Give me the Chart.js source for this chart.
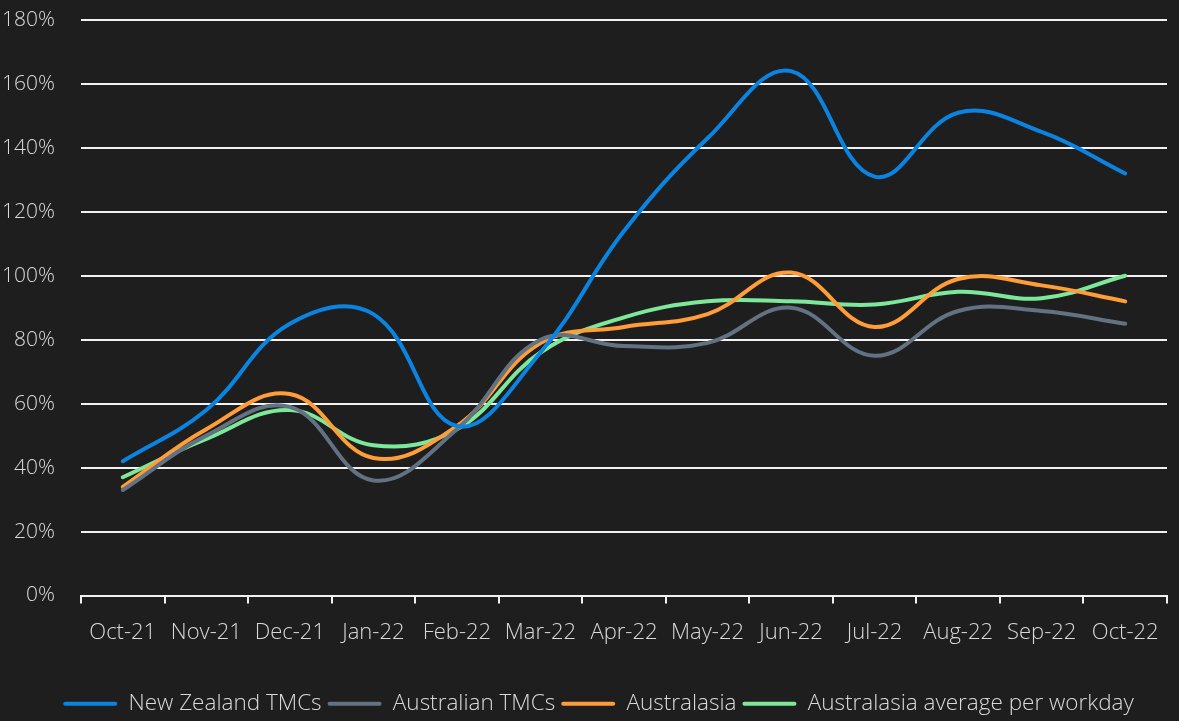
<!DOCTYPE html>
<html>
<head>
<meta charset="utf-8">
<script src="https://cdn.jsdelivr.net/npm/chart.js@4/dist/chart.umd.min.js"></script>
<style>
  html, body { margin: 0; padding: 0; background: #1e1e1e; overflow: hidden; }
  #wrap { width: 1179px; height: 725px; position: relative; }
</style>
</head>
<body>
<div id="wrap"><canvas id="c"></canvas></div>
<script>
const categories = ["Oct-21","Nov-21","Dec-21","Jan-22","Feb-22","Mar-22","Apr-22","May-22","Jun-22","Jul-22","Aug-22","Sep-22","Oct-22"];
const newZealandTMCs = [42, 58, 85, 88, 53, 76, 114, 143, 164, 131, 151, 145, 132];
const australianTMCs = [33, 50, 59, 36, 52, 80, 78, 79, 90, 75, 89, 89, 85];
const australasia = [34, 52, 63, 43, 53, 79, 84, 88, 101, 84, 99, 97, 92];
const australasiaPerWorkday = [37, 49, 58, 47, 52, 76, 87, 92, 92, 91, 95, 93, 100];
const yTicks = [0, 20, 40, 60, 80, 100, 120, 140, 160, 180];

const FONT = "'Open Sans', 'Noto Sans', sans-serif";
const TXT = '#d9d9d9';

function ds(label, data, color) {
  return {
    label, data,
    borderColor: color, backgroundColor: color,
    borderWidth: 4, pointRadius: 0, pointHoverRadius: 0,
    tension: 0.4, borderCapStyle: 'round', borderJoinStyle: 'round', fill: false
  };
}

const legendShift = {
  id: 'legendShift',
  afterLayout(chart) {
    if (chart.legend) { chart.legend.left += 15; chart.legend.right += 15; }
  }
};

new Chart(document.getElementById('c'), {
  type: 'line',
  data: {
    labels: categories,
    datasets: [
      ds('New Zealand TMCs', newZealandTMCs, '#0A84E0'),
      ds('Australian TMCs', australianTMCs, '#627282'),
      ds('Australasia', australasia, '#FF9D38'),
      ds('Australasia average per workday', australasiaPerWorkday, '#7DE89A')
    ]
  },
  plugins: [legendShift],
  options: {
    responsive: true,
    maintainAspectRatio: false,
    animation: false,
    layout: { padding: { top: 20, right: 12, left: 0, bottom: 0 } },
    plugins: {
      tooltip: { enabled: false },
      legend: {
        position: 'bottom',
        labels: {
          color: TXT,
          font: { family: FONT, size: 22.5, weight: 300 },
          boxWidth: 54, boxHeight: 4, padding: 6,
          generateLabels(chart) {
            const items = Chart.defaults.plugins.legend.labels.generateLabels(chart);
            items.forEach(i => { i.lineWidth = 0; i.borderRadius = 2; });
            return items;
          },
          useBorderRadius: true, borderRadius: 2
        }
      }
    },
    scales: {
      x: {
        offset: true,
        grid: { display: true, offset: true, drawOnChartArea: false, drawTicks: true, tickLength: 8, color: '#f2f2f2', lineWidth: 2 },
        border: { display: true, color: '#f2f2f2', width: 2 },
        ticks: { color: TXT, font: { family: FONT, size: 22, weight: 300 }, padding: 16, maxRotation: 0, autoSkip: false },
        afterFit(s) { s.height = 91; }
      },
      y: {
        min: 0, max: 180,
        afterBuildTicks(s) { s.ticks = yTicks.map(v => ({ value: v })); },
        grid: { color: '#f2f2f2', lineWidth: 2, drawTicks: false },
        border: { display: false },
        ticks: { color: TXT, font: { family: FONT, size: 21, weight: 300 }, padding: 26, callback: v => v + '%' },
        afterFit(s) { s.width = 81; s.paddingTop = 0; s.paddingBottom = 0; }
      }
    }
  }
});
</script>
</body>
</html>
